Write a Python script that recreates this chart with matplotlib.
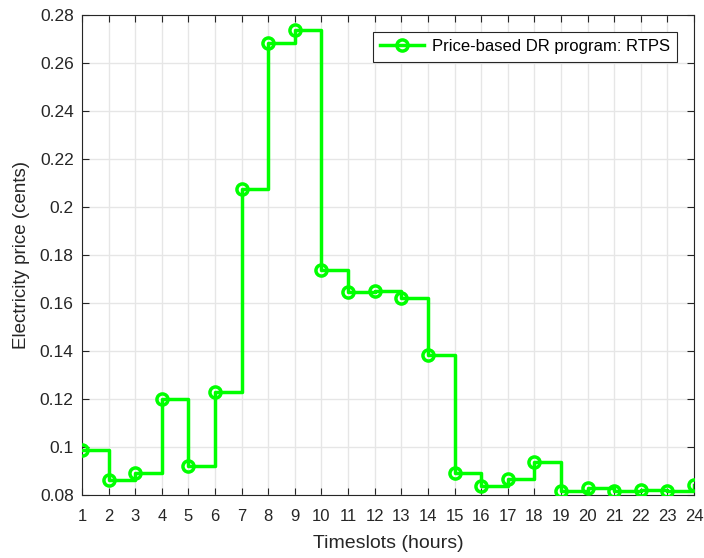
import matplotlib
matplotlib.use("Agg")
import matplotlib.pyplot as plt
import numpy as np

timeslots = list(range(1, 25))
prices = [0.0987, 0.0862, 0.0892, 0.1202, 0.0922, 0.1228, 0.2073, 0.2683,
          0.2736, 0.1736, 0.1647, 0.1648, 0.1621, 0.1385, 0.0893, 0.0839,
          0.0867, 0.0939, 0.0816, 0.0828, 0.0816, 0.0820, 0.0817, 0.0840]
yticks = [0.08, 0.1, 0.12, 0.14, 0.16, 0.18, 0.2, 0.22, 0.24, 0.26, 0.28]
ytick_labels = ["0.08", "0.1", "0.12", "0.14", "0.16", "0.18", "0.2", "0.22", "0.24", "0.26", "0.28"]

plt.rcParams['font.family'] = ['Liberation Sans', 'DejaVu Sans']

fig = plt.figure(figsize=(7.04, 5.58), dpi=100)
ax = fig.add_axes([0.1165, 0.1129, 0.8693, 0.8602])

ax.step(timeslots, prices, where='post', color='#00ff00', linewidth=2.5,
        marker='o', markersize=8, markerfacecolor='none', markeredgewidth=2.5,
        label='Price-based DR program: RTPS', zorder=3)

ax.set_xlim(1, 24)
ax.set_ylim(0.08, 0.28)
ax.set_xticks(timeslots)
ax.set_yticks(yticks)
ax.set_yticklabels(ytick_labels)
ax.grid(True, color='#e6e6e6', linewidth=1)
ax.set_axisbelow(True)
ax.tick_params(direction='in', top=True, right=True, labelsize=12.5, length=5,
               color='#262626', labelcolor='#262626')
ax.tick_params(axis='x', labelsize=12, pad=10)
ax.tick_params(axis='y', pad=6)
for s in ax.spines.values():
    s.set_color('#262626')
    s.set_linewidth(0.8)

ax.set_xlabel('Timeslots (hours)', fontsize=14, color='#262626', labelpad=8)
ax.set_ylabel('Electricity price (cents)', fontsize=13.5, color='#262626', labelpad=7)

leg = ax.legend(loc='upper right', fontsize=12, fancybox=False, framealpha=1,
                edgecolor='#262626', borderaxespad=1.0, handlelength=2.6,
                handletextpad=0.5, borderpad=0.45)
leg.get_frame().set_linewidth(0.8)

fig.savefig('out.png', dpi=100)
